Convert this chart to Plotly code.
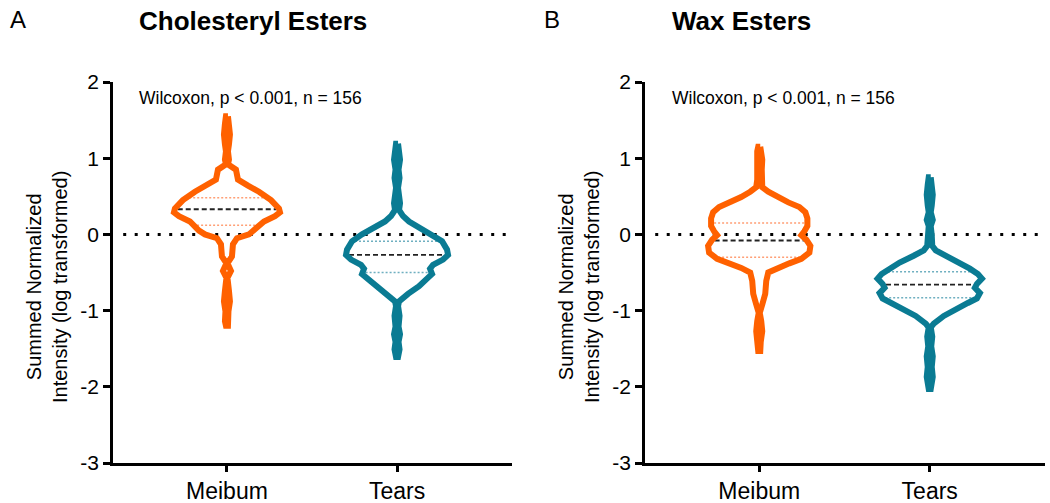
import numpy as np
import plotly.graph_objects as go

# ---------------- data ----------------
CATEGORIES = ["Meibum", "Tears"]
PANEL_TITLES = ["Cholesteryl Esters", "Wax Esters"]
PANEL_LETTERS = ["A", "B"]
STAT_TEXT = "Wilcoxon, p < 0.001, n = 156"
Y_TICKS = [-3, -2, -1, 0, 1, 2]
Y_TICK_LABELS = ["-3", "-2", "-1", "0", "1", "2"]

# violin outlines: y value and density (half-width, arbitrary px-like units)
ce_meibum_y = [1.55, 1.45, 1.31, 1.18, 1.09, 0.98, 0.92, 0.85, 0.72, 0.64, 0.56, 0.45,
               0.34, 0.29, 0.24, 0.17, 0.11, 0.05, 0.00, -0.05, -0.13, -0.29, -0.38,
               -0.48, -0.57, -0.74, -0.88, -1.01, -1.14, -1.20]
ce_meibum_d = [1.0, 2.0, 3.0, 2.0, 1.0, 2.0, 1.0, 9.0, 11.0, 21.0, 32.0, 44.0,
               52.0, 53.0, 48.0, 37.0, 32.0, 28.0, 22.0, 10.0, 6.0, 5.0, 0.5,
               4.0, 0.5, 2.0, 3.0, 1.5, 2.0, 1.0]
ce_meibum_q = [0.12, 0.33, 0.48]

ce_tears_y = [1.19, 1.11, 0.98, 0.85, 0.74, 0.61, 0.50, 0.41, 0.32, 0.24, 0.17, 0.09,
              0.00, -0.09, -0.20, -0.27, -0.33, -0.40, -0.45, -0.52, -0.58, -0.68,
              -0.78, -0.88, -0.94, -1.07, -1.21, -1.31, -1.41, -1.51, -1.61]
ce_tears_d = [1.0, 2.0, 3.0, 1.5, 2.5, 1.0, 2.0, 3.0, 2.0, 6.0, 12.0, 22.0,
              35.0, 45.0, 50.0, 51.0, 46.0, 36.0, 33.0, 35.0, 30.0, 22.0,
              11.0, 2.0, 1.0, 2.5, 1.5, 3.0, 1.5, 2.5, 1.0]
ce_tears_q = [-0.50, -0.27, -0.09]

we_meibum_y = [1.15, 1.09, 0.98, 0.85, 0.72, 0.62, 0.56, 0.49, 0.42, 0.36, 0.29, 0.21,
               0.11, 0.04, -0.01, -0.07, -0.15, -0.24, -0.32, -0.38, -0.44, -0.50,
               -0.61, -0.78, -0.92, -1.03, -1.14, -1.27, -1.41, -1.53]
we_meibum_d = [1.0, 2.0, 3.0, 2.5, 2.0, 3.0, 9.0, 18.0, 29.0, 40.0, 46.0, 48.0,
               48.0, 45.0, 42.0, 47.0, 51.0, 50.0, 42.0, 30.0, 18.0, 9.0,
               7.0, 6.0, 3.0, 0.5, 2.0, 3.0, 1.5, 1.0]
we_meibum_q = [-0.30, -0.08, 0.15]

we_tears_y = [0.75, 0.65, 0.52, 0.38, 0.29, 0.19, 0.11, -0.01, -0.15, -0.21, -0.28,
              -0.37, -0.45, -0.52, -0.58, -0.65, -0.70, -0.77, -0.84, -0.90, -0.98,
              -1.07, -1.17, -1.22, -1.34, -1.47, -1.60, -1.74, -1.87, -1.95, -2.03]
we_tears_d = [1.0, 2.0, 3.0, 2.0, 1.0, 3.0, 1.0, 2.0, 2.5, 6.0, 16.0,
              30.0, 40.0, 48.0, 52.0, 47.0, 45.0, 50.0, 47.0, 38.0, 26.0,
              14.0, 4.0, 1.0, 2.5, 1.5, 3.0, 2.0, 3.0, 1.5, 1.0]
we_tears_q = [-0.83, -0.66, -0.49]

PANELS = [
    [(ce_meibum_y, ce_meibum_d, ce_meibum_q), (ce_tears_y, ce_tears_d, ce_tears_q)],
    [(we_meibum_y, we_meibum_d, we_meibum_q), (we_tears_y, we_tears_d, we_tears_q)],
]

# ---------------- styling ----------------
FONT = "Liberation Sans, Arial, sans-serif"
COLORS = ["#FF6100", "#0A7B93"]
Q_COLORS = ["#FF9F75", "#6FAFC0"]
PX_PER_UNIT = 170.0          # horizontal px per category unit
LINE_W = 6
X_RANGE = [-0.67, 1.676]
W, H = 1050, 503
M_T, M_B = 82, 40
DOMAINS = [[113 / W, 512 / W], [645 / W, 1045 / W]]

fig = go.Figure()

for p, panel in enumerate(PANELS):
    xa = "x" if p == 0 else "x2"
    ya = "y" if p == 0 else "y2"
    # zero reference line
    fig.add_trace(go.Scatter(x=[X_RANGE[0] + 0.06, X_RANGE[1]], y=[0, 0], mode="lines",
                             line=dict(color="black", width=3, dash="3px,8.5px"),
                             xaxis=xa, yaxis=ya, showlegend=False, hoverinfo="skip"))
    for c, (yy, dd, qq) in enumerate(panel):
        yy = np.asarray(yy, float)
        dd = np.asarray(dd, float)
        hw = dd / PX_PER_UNIT
        xs = np.concatenate([c + hw, (c - hw)[::-1], [c + hw[0]]])
        ys = np.concatenate([yy, yy[::-1], [yy[0]]])
        # quartile + median lines
        order = np.argsort(yy)
        for k, q in enumerate(qq):
            h = max(np.interp(q, yy[order], dd[order]) - 3.0, 0) / PX_PER_UNIT
            if k == 1:
                ln = dict(color="#222222", width=1.8, dash="5px,3px")
            else:
                ln = dict(color=Q_COLORS[c], width=1.5, dash="2px,2px")
            fig.add_trace(go.Scatter(x=[c - h, c + h], y=[q, q], mode="lines", line=ln,
                                     xaxis=xa, yaxis=ya, showlegend=False, hoverinfo="skip"))
        fig.add_trace(go.Scatter(x=xs, y=ys, mode="lines",
                                 line=dict(color=COLORS[c], width=LINE_W),
                                 xaxis=xa, yaxis=ya, showlegend=False, hoverinfo="skip"))

axis_common = dict(showline=True, linewidth=2.5, linecolor="black", showgrid=False,
                   zeroline=False, ticks="outside", tickwidth=2.5, tickcolor="black")
for p in range(2):
    sfx = "" if p == 0 else "2"
    fig.update_layout(**{
        "xaxis" + sfx: dict(axis_common, domain=DOMAINS[p], range=X_RANGE,
                            tickvals=[0, 1], ticktext=CATEGORIES, ticklen=6,
                            tickfont=dict(family=FONT, size=23, color="black"),
                            anchor="y" + sfx),
        "yaxis" + sfx: dict(axis_common, domain=[0, 1], range=[-3, 2],
                            tickvals=Y_TICKS, ticktext=Y_TICK_LABELS, ticklen=7,
                            tickfont=dict(family=FONT, size=21, color="black"),
                            anchor="x" + sfx),
    })

plot_h = H - M_T - M_B


def py(px):
    return (H - M_B - px) / plot_h


annotations = []
letter_x = [8, 542]
title_x = [137, 670]
ytitle_x = [47, 579]
for p in range(2):
    annotations.append(dict(text=PANEL_LETTERS[p], x=letter_x[p] / W, y=py(19), xref="paper",
                            yref="paper", xanchor="left", yanchor="middle", showarrow=False,
                            font=dict(family=FONT, size=24, color="black")))
    annotations.append(dict(text="<b>" + PANEL_TITLES[p] + "</b>", x=title_x[p] / W, y=py(21),
                            xref="paper", yref="paper", xanchor="left", yanchor="middle",
                            showarrow=False, font=dict(family=FONT, size=26, color="black")))
    annotations.append(dict(text=STAT_TEXT, x=title_x[p] / W, y=py(98), xref="paper",
                            yref="paper", xanchor="left", yanchor="middle", showarrow=False,
                            font=dict(family=FONT, size=17.5, color="black")))
    annotations.append(dict(text="Summed Normalized<br>Intensity (log transformed)",
                            x=ytitle_x[p] / W, y=py(287), xref="paper", yref="paper",
                            xanchor="center", yanchor="middle", textangle=-90,
                            showarrow=False, font=dict(family=FONT, size=20, color="black")))

fig.update_layout(width=W, height=H, margin=dict(l=0, r=0, t=M_T, b=M_B),
                  paper_bgcolor="white", plot_bgcolor="white",
                  annotations=annotations, showlegend=False,
                  font=dict(family=FONT, color="black"))

fig.write_html("out.html", config={"displayModeBar": False},
               post_script="document.body.style.margin='0';"
                           "document.body.style.overflow='hidden';")
